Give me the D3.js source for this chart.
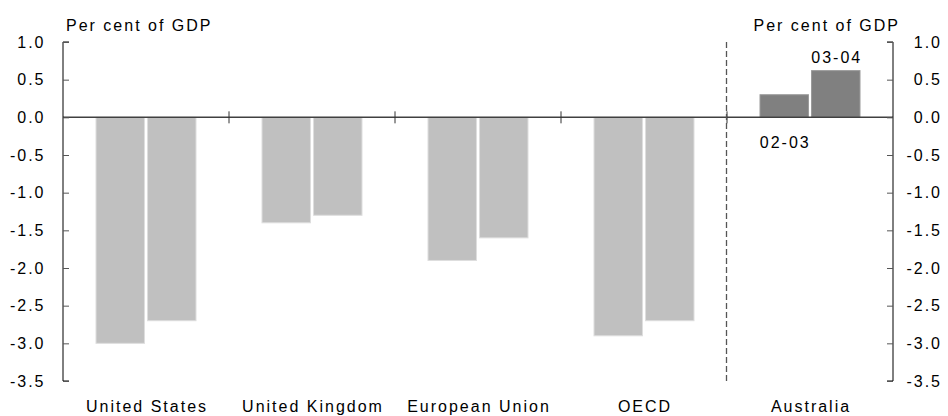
<!DOCTYPE html>
<html>
<head>
<meta charset="utf-8">
<script src="https://cdn.jsdelivr.net/npm/d3@7"></script>
<style>
  body { margin: 0; background: #fff; }
  svg { display: block; }
</style>
</head>
<body>
<svg class="vis0" width="948" height="416"></svg>
<script>
// data
var countries = ["United States", "United Kingdom", "European Union", "OECD", "Australia"];
var years = ["02-03", "03-04"];
var balance0203 = [-3.0, -1.4, -1.9, -2.9, 0.3];
var balance0304 = [-2.7, -1.3, -1.6, -2.7, 0.62];
var yTicks = [1.0, 0.5, 0.0, -0.5, -1.0, -1.5, -2.0, -2.5, -3.0, -3.5];

var rows = countries.map(function (c, i) {
    return { country: c, values: [balance0203[i], balance0304[i]] };
});

var svg0 = d3.select(".vis0");
var font = "'Liberation Sans', Arial, sans-serif";
var ls = 2;

var plotL = 63, plotR = 893, plotT = 42, plotB = 381;

var x = d3.scaleBand()
    .domain(countries)
    .range([plotL, plotR])
    .padding(0);

var xInner = d3.scaleBand()
    .domain(years)
    .range([33, 133])
    .paddingInner(0.06);

var y = d3.scaleLinear()
    .domain([-3.5, 1])
    .range([plotB, plotT]);

// bars
var groups = svg0.selectAll(".grp")
    .data(rows)
    .join("g")
    .attr("class", "grp")
    .attr("transform", function (d) { return `translate(${x(d.country)},0)`; });

groups.selectAll("rect")
    .data(function (d) {
        return d.values.map(function (v, j) { return { country: d.country, year: years[j], v: v }; });
    })
    .join("rect")
    .attr("x", function (d) { return xInner(d.year); })
    .attr("y", function (d) { return y(Math.max(0, d.v)); })
    .attr("width", xInner.bandwidth())
    .attr("height", function (d) { return Math.abs(y(d.v) - y(0)); })
    .attr("fill", function (d) { return d.country === "Australia" ? "#808080" : "#c0c0c0"; })
    .attr("stroke", function (d) { return d.country === "Australia" ? "#9a9a9a" : "#dedede"; })
    .attr("stroke-width", 1);

// zero line
svg0.append("line")
    .attr("x1", plotL).attr("x2", plotR)
    .attr("y1", y(0)).attr("y2", y(0))
    .attr("stroke", "#404040")
    .attr("stroke-width", 1.5);

// category ticks on the zero line
countries.slice(1).forEach(function (c) {
    svg0.append("line")
        .attr("x1", x(c)).attr("x2", x(c))
        .attr("y1", y(0) - 6).attr("y2", y(0) + 6)
        .attr("stroke", "#333")
        .attr("stroke-width", 1);
});

// dashed separator before Australia
svg0.append("line")
    .attr("x1", x("Australia") - 0.5).attr("x2", x("Australia") - 0.5)
    .attr("y1", plotT).attr("y2", plotB)
    .attr("stroke", "#555")
    .attr("stroke-width", 1.3)
    .attr("stroke-dasharray", "6,3");

// left axis
var yAxisL = svg0.append("g")
    .attr("transform", `translate(${plotL},0)`)
    .call(d3.axisRight(y).tickValues(yTicks).tickSize(6).tickFormat(""));
yAxisL.select(".domain").attr("d", `M6,${plotT}H0V${plotB}H6`).attr("stroke", "#000");
yAxisL.selectAll(".tick line").attr("stroke", "#555");

// right axis
var yAxisR = svg0.append("g")
    .attr("transform", `translate(${plotR},0)`)
    .call(d3.axisLeft(y).tickValues(yTicks).tickSize(6).tickFormat(""));
yAxisR.select(".domain").attr("d", `M-6,${plotT}H0V${plotB}H-6`).attr("stroke", "#000");
yAxisR.selectAll(".tick line").attr("stroke", "#555");

// tick labels
svg0.selectAll(".ylabL")
    .data(yTicks)
    .join("text")
    .attr("class", "ylabL")
    .attr("x", 43.5 + ls)
    .attr("y", function (d) { return y(d); })
    .attr("dy", "0.36em")
    .attr("text-anchor", "end")
    .attr("font-family", font)
    .attr("font-size", "16px")
    .attr("letter-spacing", ls)
    .attr("fill", "#000")
    .text(function (d) { return d.toFixed(1); });

svg0.selectAll(".ylabR")
    .data(yTicks)
    .join("text")
    .attr("class", "ylabR")
    .attr("x", 940 + ls)
    .attr("y", function (d) { return y(d); })
    .attr("dy", "0.36em")
    .attr("text-anchor", "end")
    .attr("font-family", font)
    .attr("font-size", "16px")
    .attr("letter-spacing", ls)
    .attr("fill", "#000")
    .text(function (d) { return d.toFixed(1); });

// unit labels
svg0.append("text")
    .attr("x", 66).attr("y", 31)
    .attr("font-family", font).attr("font-size", "16px")
    .attr("letter-spacing", ls)
    .text("Per cent of GDP");
svg0.append("text")
    .attr("x", 898 + ls).attr("y", 31)
    .attr("text-anchor", "end")
    .attr("font-family", font).attr("font-size", "16px")
    .attr("letter-spacing", ls)
    .text("Per cent of GDP");

// category labels
svg0.selectAll(".xlab")
    .data(countries)
    .join("text")
    .attr("class", "xlab")
    .attr("x", function (d) { return x(d) + x.bandwidth() / 2 + ls / 2; })
    .attr("y", 412)
    .attr("text-anchor", "middle")
    .attr("font-family", font)
    .attr("font-size", "16px")
    .attr("letter-spacing", ls)
    .text(function (d) { return d; });

// year labels on Australia bars
var ax = x("Australia");
svg0.append("text")
    .attr("x", ax + xInner("02-03") + xInner.bandwidth() / 2 + ls / 2)
    .attr("y", 148)
    .attr("text-anchor", "middle")
    .attr("font-family", font).attr("font-size", "16px")
    .attr("letter-spacing", ls)
    .text("02-03");
svg0.append("text")
    .attr("x", ax + xInner("03-04") + xInner.bandwidth() / 2 + ls / 2)
    .attr("y", 63)
    .attr("text-anchor", "middle")
    .attr("font-family", font).attr("font-size", "16px")
    .attr("letter-spacing", ls)
    .text("03-04");
</script>
</body>
</html>
